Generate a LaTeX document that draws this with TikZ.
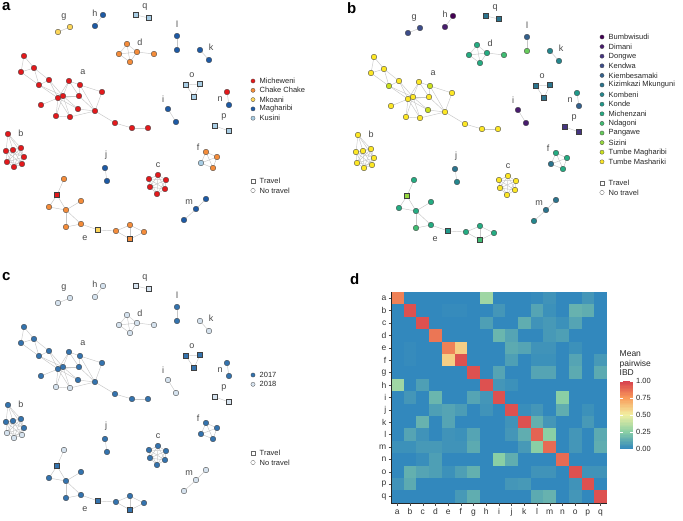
\documentclass[tikz,border=0pt]{standalone}
\usepackage{fontspec}
\setmainfont{Liberation Sans}
\usetikzlibrary{backgrounds}

% district colours (panel a)
\definecolor{mich}{HTML}{E3191C}
\definecolor{chake}{HTML}{F48C3A}
\definecolor{mkoani}{HTML}{FCD65A}
\definecolor{magh}{HTML}{1D5AA5}
\definecolor{kusini}{HTML}{A8CDE4}
% shehia colours (panel b)
\definecolor{sBum}{HTML}{440154}
\definecolor{sDim}{HTML}{481C6E}
\definecolor{sDon}{HTML}{453581}
\definecolor{sKen}{HTML}{3D4D8A}
\definecolor{sKie}{HTML}{34618D}
\definecolor{sKiz}{HTML}{2B748E}
\definecolor{sKom}{HTML}{24878E}
\definecolor{sKon}{HTML}{1F998A}
\definecolor{sMic}{HTML}{25AC82}
\definecolor{sNda}{HTML}{40BC72}
\definecolor{sPan}{HTML}{67CC5C}
\definecolor{sSiz}{HTML}{97D83F}
\definecolor{sTMg}{HTML}{CBE11E}
\definecolor{sTMs}{HTML}{FDE725}
% year colours (panel c)
\definecolor{y17}{HTML}{3473AE}
\definecolor{y18}{HTML}{D6E3EF}
% IBD scale
\definecolor{ibdA}{HTML}{3288BD}
\definecolor{ibdB}{HTML}{8ACFA5}
\definecolor{ibdC}{HTML}{F2F0A2}
\definecolor{ibdD}{HTML}{F99A5A}
\definecolor{ibdE}{HTML}{D63F4E}

\tikzset{
  case/.style={circle, draw=black!75, line width=0.35pt, inner sep=0pt, minimum size=5.6pt},
  travel/.style={rectangle, draw=black!75, line width=0.35pt, inner sep=0pt, minimum size=5pt},
  link/.style={draw=black!22, line width=0.45pt},
  cluster/.style={font=\fontsize{9}{10}\selectfont, text=black!72, inner sep=0pt},
  keydot/.style={circle, draw=black!70, line width=0.3pt, inner sep=0pt, minimum size=4.2pt},
  keybox/.style={rectangle, draw=black!60, fill=white, line width=0.4pt, inner sep=0pt, minimum size=4.2pt},
  keytext/.style={font=\fontsize{7.5}{8}\selectfont, anchor=west, inner sep=0pt, text=black!85},
  panel/.style={font=\bfseries\fontsize{15}{16}\selectfont, anchor=north west, inner sep=0pt},
  ticklab/.style={font=\fontsize{8.5}{9}\selectfont, text=black!80, inner sep=0pt}
}

% one isolate drawn in all three panels: name, x, y, shape, colour a, colour b, colour c
\newcommand\iso[7]{%
  \node[#4, fill=#5] (pa-#1) at (#2,#3) {};
  \node[#4, fill=#6] (pb-#1) at ({#2+350},{#3+1}) {};
  \node[#4, fill=#7] (pc-#1) at (#2,{#3+271}) {};}
\newcommand\lnk[2]{\foreach \p in {pa,pb,pc} {\path[link] (\p-#1) -- (\p-#2);}}
\newcommand\clab[3]{%
  \node[cluster] (pa-t#1) at (#2,#3) {#1};
  \node[cluster] (pb-t#1) at ({#2+350},{#3+1}) {#1};
  \node[cluster] (pc-t#1) at (#2,{#3+271}) {#1};}
% colour for an IBD value given in percent
\newcommand\ibdfill[1]{%
  \ifnum#1<25 \edef\pc{\the\numexpr#1*4\relax}\colorlet{cellc}{ibdB!\pc!ibdA}%
  \else\ifnum#1<50 \edef\pc{\the\numexpr(#1-25)*4\relax}\colorlet{cellc}{ibdC!\pc!ibdB}%
  \else\ifnum#1<75 \edef\pc{\the\numexpr(#1-50)*4\relax}\colorlet{cellc}{ibdD!\pc!ibdC}%
  \else \edef\pc{\the\numexpr(#1-75)*4\relax}\colorlet{cellc}{ibdE!\pc!ibdD}%
  \fi\fi\fi}

\begin{document}
\begin{tikzpicture}[x=1pt, y=-1pt]
  \useasboundingbox (0,0) rectangle (683,520);

  \node[panel] (la) at (2,2.5) {a};
  \node[panel] (lb) at (347,2.5) {b};
  \node[panel] (lc) at (2,272) {c};
  \node[panel] (ld) at (350,273) {d};

  % cluster a
  \iso{a1}{24}{56}{case}{mich}{sTMs}{y17}
  \iso{a2}{34}{68}{case}{mich}{sTMs}{y17}
  \iso{a3}{21}{72}{case}{mich}{sTMs}{y17}
  \iso{a4}{39}{85}{case}{mich}{sTMg}{y17}
  \iso{a5}{49}{80}{case}{mich}{sTMs}{y17}
  \iso{a6}{69}{81}{case}{mich}{sTMs}{y17}
  \iso{a7}{80}{85}{case}{mich}{sTMg}{y17}
  \iso{a8}{102}{92}{case}{mich}{sTMs}{y17}
  \iso{a9}{79}{96}{case}{mich}{sTMs}{y17}
  \iso{a10}{63}{96}{case}{mich}{sTMs}{y17}
  \iso{a11}{58}{98}{case}{mich}{sTMs}{y17}
  \iso{a12}{41}{105}{case}{mich}{sTMs}{y17}
  \iso{a13}{78}{109}{case}{mich}{sTMg}{y17}
  \iso{a14}{95}{111}{case}{mich}{sTMs}{y17}
  \iso{a15}{56}{116}{case}{mich}{sTMs}{y18}
  \iso{a16}{70}{117}{case}{mich}{sTMs}{y18}
  \iso{a17}{115}{123}{case}{mich}{sTMs}{y17}
  \iso{a18}{132}{128}{case}{mich}{sTMs}{y17}
  \iso{a19}{148}{128}{case}{mich}{sTMs}{y17}
  % cluster b
  \iso{b1}{8}{134}{case}{mich}{sTMs}{y17}
  \iso{b2}{6}{151}{case}{mich}{sTMs}{y17}
  \iso{b3}{13}{150}{case}{mich}{sTMs}{y17}
  \iso{b4}{21}{148}{case}{mich}{sTMs}{y17}
  \iso{b5}{24}{157}{case}{mich}{sTMs}{y17}
  \iso{b6}{22}{164}{case}{mich}{sTMs}{y18}
  \iso{b7}{14}{167}{case}{mich}{sTMs}{y18}
  \iso{b8}{7}{162}{case}{mich}{sTMs}{y18}
  % cluster c
  \iso{c1}{158}{175}{case}{mich}{sTMs}{y17}
  \iso{c2}{166}{180}{case}{mich}{sTMs}{y17}
  \iso{c3}{165}{189}{case}{mich}{sTMs}{y17}
  \iso{c4}{157}{194}{case}{mich}{sTMs}{y17}
  \iso{c5}{150}{187}{case}{mich}{sTMs}{y17}
  \iso{c6}{149}{179}{case}{mich}{sTMs}{y17}
  % cluster d
  \iso{d1}{127}{44}{case}{chake}{sMic}{y18}
  \iso{d2}{119}{54}{case}{chake}{sMic}{y18}
  \iso{d3}{130}{62}{case}{chake}{sMic}{y18}
  \iso{d4}{137}{52}{case}{chake}{sMic}{y18}
  \iso{d5}{154}{54}{case}{chake}{sNda}{y18}
  % cluster e
  \iso{e1}{64}{179}{case}{chake}{sMic}{y18}
  \iso{e2}{57}{195}{travel}{mich}{sSiz}{y17}
  \iso{e3}{49}{207}{case}{chake}{sMic}{y17}
  \iso{e4}{66}{210}{case}{chake}{sMic}{y17}
  \iso{e5}{81}{201}{case}{chake}{sMic}{y17}
  \iso{e6}{66}{227}{case}{chake}{sNda}{y17}
  \iso{e7}{81}{224}{case}{chake}{sMic}{y17}
  \iso{e8}{98}{230}{travel}{mkoani}{sKon}{y17}
  \iso{e9}{116}{231}{case}{chake}{sMic}{y17}
  \iso{e10}{130}{225}{case}{chake}{sMic}{y17}
  \iso{e11}{130}{239}{travel}{chake}{sNda}{y17}
  \iso{e12}{144}{232}{case}{chake}{sMic}{y17}
  % cluster f
  \iso{f1}{206}{152}{case}{chake}{sMic}{y17}
  \iso{f2}{217}{157}{case}{chake}{sMic}{y17}
  \iso{f3}{213}{168}{case}{chake}{sMic}{y17}
  \iso{f4}{201}{163}{case}{kusini}{sKiz}{y17}
  % pairs and small clusters
  \iso{g1}{58}{32}{case}{mkoani}{sKen}{y18}
  \iso{g2}{70}{27}{case}{mkoani}{sKen}{y18}
  \iso{h1}{95}{26}{case}{magh}{sDim}{y18}
  \iso{h2}{103}{15}{case}{magh}{sBum}{y18}
  \iso{i1}{168}{109}{case}{magh}{sDim}{y18}
  \iso{i2}{176}{122}{case}{magh}{sDim}{y18}
  \iso{j1}{105}{168}{case}{magh}{sKiz}{y17}
  \iso{j2}{107}{181}{case}{magh}{sKom}{y17}
  \iso{k1}{200}{50}{case}{magh}{sKom}{y18}
  \iso{k2}{209}{60}{case}{magh}{sKom}{y18}
  \iso{l1}{177}{36}{case}{magh}{sKie}{y17}
  \iso{l2}{177}{50}{case}{magh}{sPan}{y17}
  \iso{m1}{184}{220}{case}{magh}{sKom}{y18}
  \iso{m2}{196}{209}{case}{magh}{sKiz}{y18}
  \iso{m3}{206}{199}{case}{magh}{sKiz}{y18}
  \iso{n1}{227}{92}{case}{mich}{sKon}{y17}
  \iso{n2}{229}{105}{case}{magh}{sKie}{y17}
  \iso{o1}{186}{85}{travel}{kusini}{sKiz}{y17}
  \iso{o2}{200}{84}{travel}{kusini}{sKiz}{y17}
  \iso{o3}{194}{97}{travel}{kusini}{sKiz}{y17}
  \iso{p1}{215}{126}{travel}{kusini}{sDon}{y18}
  \iso{p2}{229}{131}{travel}{kusini}{sDon}{y18}
  \iso{q1}{136}{15}{travel}{kusini}{sKiz}{y18}
  \iso{q2}{149}{18}{travel}{kusini}{sKiz}{y18}

  \begin{scope}[on background layer]
    \lnk{a1}{a2} \lnk{a1}{a3} \lnk{a2}{a3} \lnk{a2}{a4} \lnk{a2}{a5}
    \lnk{a3}{a4} \lnk{a4}{a5} \lnk{a4}{a10} \lnk{a4}{a11} \lnk{a5}{a10}
    \lnk{a5}{a11} \lnk{a6}{a7} \lnk{a6}{a10} \lnk{a6}{a11} \lnk{a6}{a9}
    \lnk{a7}{a8} \lnk{a7}{a9} \lnk{a7}{a14} \lnk{a8}{a14} \lnk{a9}{a10}
    \lnk{a9}{a11} \lnk{a9}{a14} \lnk{a10}{a11} \lnk{a11}{a12} \lnk{a11}{a13}
    \lnk{a11}{a15} \lnk{a11}{a16} \lnk{a10}{a13} \lnk{a10}{a15} \lnk{a10}{a16}
    \lnk{a15}{a16} \lnk{a16}{a14} \lnk{a13}{a14} \lnk{a14}{a17} \lnk{a17}{a18}
    \lnk{a18}{a19}
    \foreach \j in {2,...,5} {\lnk{b1}{b\j}}
    \foreach \i in {2,...,8} {\foreach \j in {\i,...,8} {\ifnum\i<\j \lnk{b\i}{b\j}\fi}}
    \foreach \i in {1,...,6} {\foreach \j in {\i,...,6} {\ifnum\i<\j \lnk{c\i}{c\j}\fi}}
    \lnk{d1}{d2} \lnk{d1}{d3} \lnk{d1}{d4} \lnk{d2}{d3} \lnk{d2}{d4}
    \lnk{d3}{d4} \lnk{d4}{d5}
    \lnk{e1}{e2} \lnk{e2}{e3} \lnk{e2}{e4} \lnk{e3}{e4} \lnk{e4}{e5}
    \lnk{e4}{e6} \lnk{e4}{e7} \lnk{e6}{e7} \lnk{e7}{e8} \lnk{e8}{e9}
    \lnk{e9}{e10} \lnk{e9}{e11} \lnk{e10}{e11} \lnk{e10}{e12} \lnk{e11}{e12}
    \foreach \i in {1,...,4} {\foreach \j in {\i,...,4} {\ifnum\i<\j \lnk{f\i}{f\j}\fi}}
    \lnk{g1}{g2} \lnk{h1}{h2} \lnk{i1}{i2} \lnk{j1}{j2} \lnk{k1}{k2}
    \lnk{l1}{l2} \lnk{m1}{m2} \lnk{m2}{m3} \lnk{n1}{n2}
    \lnk{o1}{o2} \lnk{o2}{o3} \lnk{o1}{o3} \lnk{p1}{p2} \lnk{q1}{q2}
  \end{scope}

  \clab{a}{83}{72} \clab{b}{21}{133} \clab{c}{158}{165} \clab{d}{140}{42}
  \clab{e}{85}{238} \clab{f}{198}{147} \clab{g}{64}{17} \clab{h}{95}{13}
  \clab{i}{163}{99} \clab{j}{106}{155} \clab{k}{211}{47} \clab{l}{177}{24}
  \clab{m}{189}{202} \clab{n}{220}{99} \clab{o}{192}{75} \clab{p}{224}{117}
  \clab{q}{145}{7}

  % legends
  \foreach \col/\txt [count=\k] in {mich/Micheweni, chake/Chake Chake,
      mkoani/Mkoani, magh/Magharibi, kusini/Kusini} {
    \node[keydot, fill=\col] (ka\k) at (253,{81+(\k-1)*9.3}) {};
    \node[keytext] (kat\k) at (259.5,{81+(\k-1)*9.3}) {\txt};
  }
  \foreach \col/\txt [count=\k] in {sBum/Bumbwisudi, sDim/Dimani, sDon/Dongwe,
      sKen/Kendwa, sKie/Kiembesamaki, sKiz/Kizimkazi Mkunguni, sKom/Kombeni,
      sKon/Konde, sMic/Michenzani, sNda/Ndagoni, sPan/Pangawe, sSiz/Sizini,
      sTMg/Tumbe Magharibi, sTMs/Tumbe Mashariki} {
    \node[keydot, fill=\col] (kb\k) at (602,{37+(\k-1)*9.6}) {};
    \node[keytext] (kbt\k) at (608.5,{37+(\k-1)*9.6}) {\txt};
  }
  \foreach \col/\txt [count=\k] in {y17/2017, y18/2018} {
    \node[keydot, fill=\col] (kc\k) at (253,{375+(\k-1)*9.3}) {};
    \node[keytext] (kct\k) at (259.5,{375+(\k-1)*9.3}) {\txt};
  }
  \foreach \x/\y/\s in {253/181/a, 602/183/b, 253/453/c} {
    \node[keybox] (tr\s) at (\x,\y) {};
    \node[keytext] (trt\s) at (\x+6.5,\y) {Travel};
    \node[keydot, fill=white, draw=black!60, minimum size=4.4pt] (nt\s) at (\x,\y+9.5) {};
    \node[keytext] (ntt\s) at (\x+6.5,\y+9.5) {No travel};
  }

  % heatmap d
  \foreach \row [count=\r] in {
      {82,0,0,0,0,0,0,30,0,0,0,1,4,0,0,5,0},
      {0,95,0,0,1,1,0,0,5,0,0,10,3,0,15,13,0},
      {0,0,95,0,0,0,0,8,0,0,13,4,6,3,10,0,0},
      {0,0,0,85,0,0,0,0,16,10,0,0,6,8,0,0,0},
      {0,1,0,0,82,60,0,0,0,12,10,4,4,0,3,0,0},
      {0,1,0,0,60,95,0,0,0,8,0,3,3,0,10,0,6},
      {0,0,0,0,0,0,95,0,10,0,0,10,10,0,12,0,12},
      {30,0,8,0,0,0,0,95,5,3,0,0,0,0,0,0,0},
      {0,5,0,16,0,0,10,5,95,0,0,0,0,25,0,0,0},
      {0,0,0,8,10,7,0,4,0,95,2,5,0,13,0,3,0},
      {0,0,15,0,10,0,0,0,0,4,95,14,5,0,0,6,0},
      {0,10,4,0,4,3,10,0,0,5,13,90,25,0,5,0,12},
      {3,3,6,6,4,4,12,0,0,0,6,25,88,0,5,0,13},
      {0,0,2,8,0,0,0,0,25,13,0,0,0,88,0,0,0},
      {0,14,10,8,3,8,14,0,0,0,0,4,4,0,95,4,4},
      {4,12,0,0,0,0,0,0,0,5,6,0,0,0,4,95,0},
      {0,0,0,0,0,6,13,0,0,0,0,12,15,0,5,0,95}} {
    \foreach \v [count=\c] in \row {
      \ibdfill{\v}
      \fill[cellc] ({391+(\c-1)*12.7},{292+(\r-1)*12.4}) rectangle ++(12.8,12.5);
    }
  }
  \draw[black!85, line width=0.7pt] (391,292) -- (391,503) -- (607,503);
  \foreach \n [count=\k] in {a,...,q} {
    \draw[black!70, line width=0.4pt] (388.5,{292+(\k-0.5)*12.4}) -- (391,{292+(\k-0.5)*12.4});
    \node[ticklab, anchor=east] (row\k) at (386.5,{292+(\k-0.5)*12.4}) {\n};
    \draw[black!70, line width=0.4pt] ({391+(\k-0.5)*12.7},503) -- ({391+(\k-0.5)*12.7},505.5);
    \node[ticklab, anchor=north] (col\k) at ({391+(\k-0.5)*12.7},508) {\strut\n};
  }

  % colour bar
  \foreach \k in {0,...,49} {
    \pgfmathtruncatemacro\vv{\k*2+1}
    \ibdfill{\vv}
    \fill[cellc] (620,{449-\k*1.36}) rectangle (633,{449-(\k+1)*1.36-0.3});
  }
  \foreach \t/\lab in {0/0.00, 1/0.25, 2/0.50, 3/0.75, 4/1.00} {
    \draw[white, line width=0.5pt] (620,{449-\t*17}) -- (622.6,{449-\t*17});
    \draw[white, line width=0.5pt] (630.4,{449-\t*17}) -- (633,{449-\t*17});
    \node[keytext] (bar\t) at (636,{449-\t*17}) {\lab};
  }
  \node[keytext, anchor=south west, align=left, font=\fontsize{8.5}{9.6}\selectfont]
    (bartitle) at (619.5,376) {Mean\\pairwise\\IBD};
\end{tikzpicture}
\end{document}
